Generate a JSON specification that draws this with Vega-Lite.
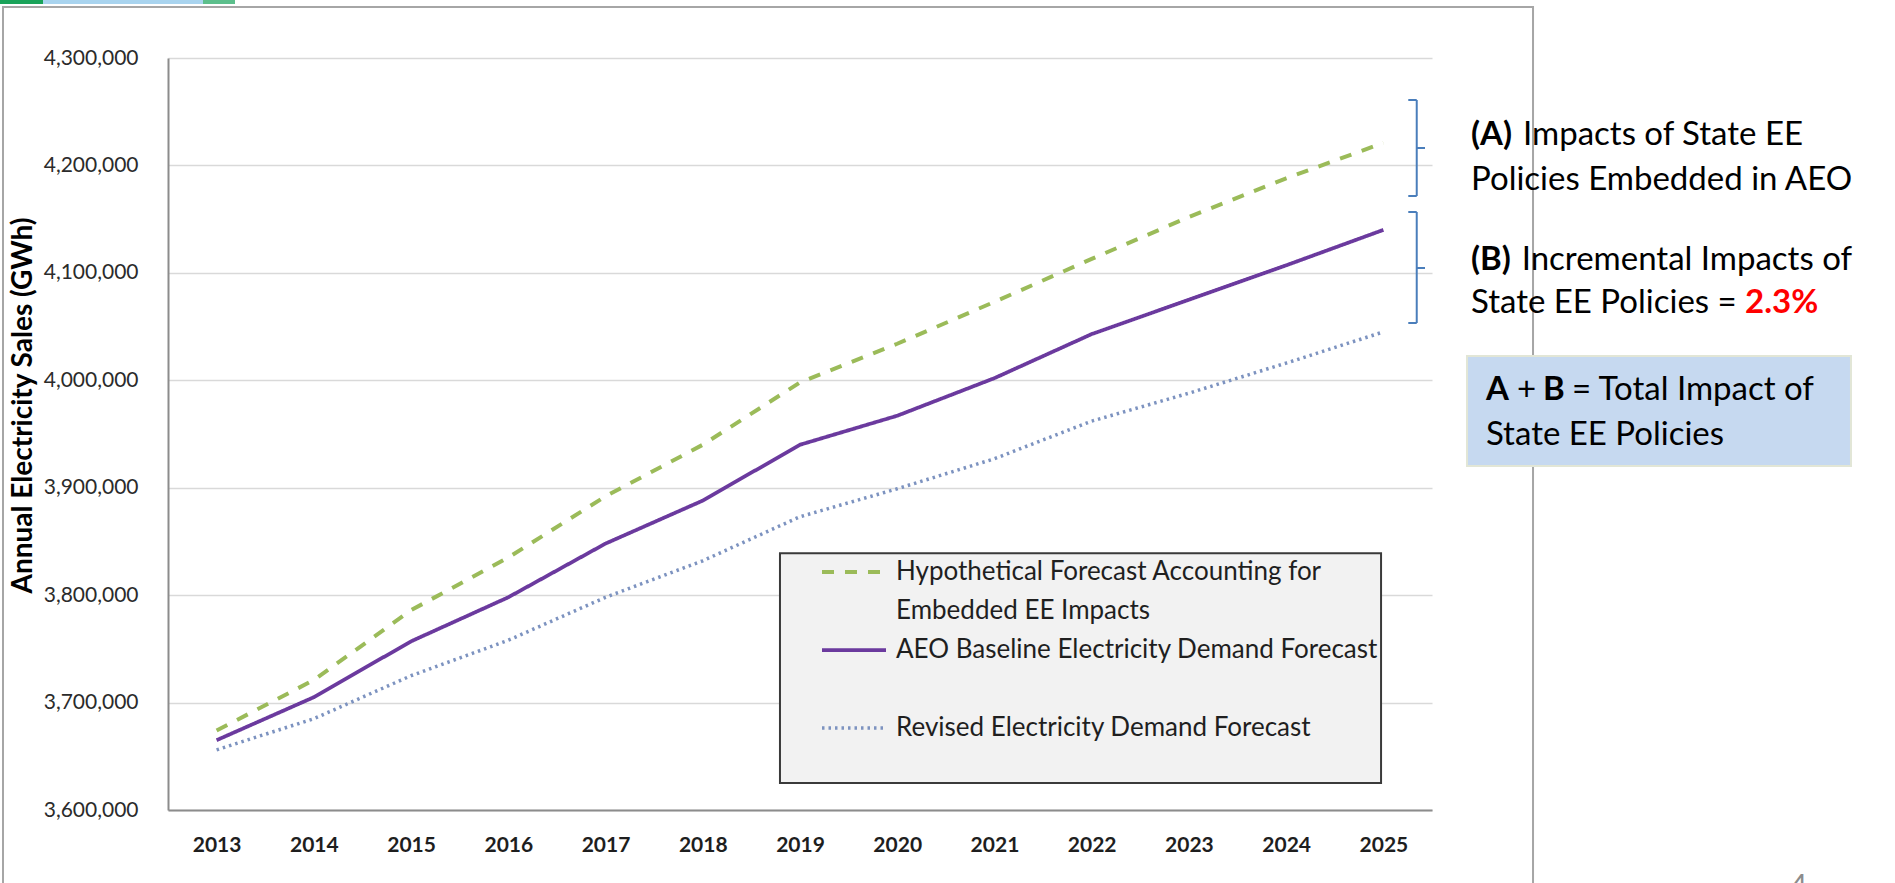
{
  "$schema": "https://vega.github.io/schema/vega-lite/v6.json",
  "width": 1264,
  "height": 752,
  "autosize": {"type": "none"},
  "padding": {"left": 168, "top": 58, "right": 463, "bottom": 73},
  "background": "white",
  "config": {
    "view": {"stroke": null},
    "font": "Lato",
    "text": {"font": "Lato"}
  },
  "datasets": {
    "forecast": [
      {"year": 2013, "series": "Hypothetical Forecast Accounting for Embedded EE Impacts", "value": 3674000},
      {"year": 2014, "series": "Hypothetical Forecast Accounting for Embedded EE Impacts", "value": 3721000},
      {"year": 2015, "series": "Hypothetical Forecast Accounting for Embedded EE Impacts", "value": 3786000},
      {"year": 2016, "series": "Hypothetical Forecast Accounting for Embedded EE Impacts", "value": 3835000},
      {"year": 2017, "series": "Hypothetical Forecast Accounting for Embedded EE Impacts", "value": 3892000},
      {"year": 2018, "series": "Hypothetical Forecast Accounting for Embedded EE Impacts", "value": 3940000},
      {"year": 2019, "series": "Hypothetical Forecast Accounting for Embedded EE Impacts", "value": 3998000},
      {"year": 2020, "series": "Hypothetical Forecast Accounting for Embedded EE Impacts", "value": 4034000},
      {"year": 2021, "series": "Hypothetical Forecast Accounting for Embedded EE Impacts", "value": 4073000},
      {"year": 2022, "series": "Hypothetical Forecast Accounting for Embedded EE Impacts", "value": 4113000},
      {"year": 2023, "series": "Hypothetical Forecast Accounting for Embedded EE Impacts", "value": 4152000},
      {"year": 2024, "series": "Hypothetical Forecast Accounting for Embedded EE Impacts", "value": 4188000},
      {"year": 2025, "series": "Hypothetical Forecast Accounting for Embedded EE Impacts", "value": 4221000},
      {"year": 2013, "series": "AEO Baseline Electricity Demand Forecast", "value": 3665000},
      {"year": 2014, "series": "AEO Baseline Electricity Demand Forecast", "value": 3705000},
      {"year": 2015, "series": "AEO Baseline Electricity Demand Forecast", "value": 3757000},
      {"year": 2016, "series": "AEO Baseline Electricity Demand Forecast", "value": 3798000},
      {"year": 2017, "series": "AEO Baseline Electricity Demand Forecast", "value": 3848000},
      {"year": 2018, "series": "AEO Baseline Electricity Demand Forecast", "value": 3888000},
      {"year": 2019, "series": "AEO Baseline Electricity Demand Forecast", "value": 3940000},
      {"year": 2020, "series": "AEO Baseline Electricity Demand Forecast", "value": 3967000},
      {"year": 2021, "series": "AEO Baseline Electricity Demand Forecast", "value": 4002000},
      {"year": 2022, "series": "AEO Baseline Electricity Demand Forecast", "value": 4043000},
      {"year": 2023, "series": "AEO Baseline Electricity Demand Forecast", "value": 4075000},
      {"year": 2024, "series": "AEO Baseline Electricity Demand Forecast", "value": 4107000},
      {"year": 2025, "series": "AEO Baseline Electricity Demand Forecast", "value": 4140000},
      {"year": 2013, "series": "Revised Electricity Demand Forecast", "value": 3656000},
      {"year": 2014, "series": "Revised Electricity Demand Forecast", "value": 3685000},
      {"year": 2015, "series": "Revised Electricity Demand Forecast", "value": 3725000},
      {"year": 2016, "series": "Revised Electricity Demand Forecast", "value": 3758000},
      {"year": 2017, "series": "Revised Electricity Demand Forecast", "value": 3798000},
      {"year": 2018, "series": "Revised Electricity Demand Forecast", "value": 3832000},
      {"year": 2019, "series": "Revised Electricity Demand Forecast", "value": 3873000},
      {"year": 2020, "series": "Revised Electricity Demand Forecast", "value": 3899000},
      {"year": 2021, "series": "Revised Electricity Demand Forecast", "value": 3927000},
      {"year": 2022, "series": "Revised Electricity Demand Forecast", "value": 3962000},
      {"year": 2023, "series": "Revised Electricity Demand Forecast", "value": 3988000},
      {"year": 2024, "series": "Revised Electricity Demand Forecast", "value": 4016000},
      {"year": 2025, "series": "Revised Electricity Demand Forecast", "value": 4045000}
    ],
    "brackets": [
      {"bracket": "A", "top": 4260904, "mid": 4216224, "bottom": 4171543},
      {"bracket": "B", "top": 4156649, "mid": 4104522, "bottom": 4053325}
    ],
    "single": [{"k": 1}]
  },
  "encoding": {
    "x": {
      "type": "quantitative",
      "scale": {"domain": [2012.5, 2025.5], "nice": false, "zero": false},
      "axis": {
        "values": [2013, 2014, 2015, 2016, 2017, 2018, 2019, 2020, 2021, 2022, 2023, 2024, 2025],
        "format": "d",
        "title": null,
        "grid": false,
        "ticks": false,
        "labelFont": "Lato",
        "labelFontWeight": "bold",
        "labelFontSize": 21,
        "labelColor": "#1e1e1e",
        "labelPadding": 24,
        "domainColor": "#8c8c8c",
        "domainWidth": 2,
        "labelFlush": false
      }
    },
    "y": {
      "type": "quantitative",
      "scale": {"domain": [3600000, 4300000], "nice": false, "zero": false},
      "axis": {
        "values": [3600000, 3700000, 3800000, 3900000, 4000000, 4100000, 4200000, 4300000],
        "format": ",d",
        "title": "Annual Electricity Sales  (GWh)",
        "titleFont": "Lato",
        "titleFontWeight": "bold",
        "titleFontSize": 28,
        "titleColor": "#000000",
        "titleAngle": -90,
        "titleAlign": "center",
        "titleBaseline": "middle",
        "titleX": -145,
        "titleY": 347,
        "grid": true,
        "gridColor": "#d9d9d9",
        "gridWidth": 1.5,
        "ticks": false,
        "labelFont": "Lato",
        "labelFontSize": 21,
        "labelColor": "#2b2b2b",
        "labelPadding": 30,
        "domainColor": "#8c8c8c",
        "domainWidth": 2,
        "labelFlush": false
      }
    }
  },
  "layer": [
    {
      "data": {"name": "single"},
      "mark": {"type": "rect", "filled": false, "stroke": "#a6a6a6", "strokeWidth": 2},
      "encoding": {
        "x": {"datum": 2010.803},
        "x2": {"datum": 2026.539},
        "y": {"datum": 4347473},
        "y2": {"datum": 3500000}
      }
    },
    {
      "data": {"name": "single"},
      "mark": {"type": "rect", "fill": "#1aa35a"},
      "encoding": {
        "x": {"datum": 2010.7721},
        "x2": {"datum": 2011.2144},
        "y": {"datum": 4353989},
        "y2": {"datum": 4350266}
      }
    },
    {
      "data": {"name": "single"},
      "mark": {"type": "rect", "fill": "#a9d4ef"},
      "encoding": {
        "x": {"datum": 2011.2144},
        "x2": {"datum": 2012.86},
        "y": {"datum": 4353989},
        "y2": {"datum": 4350266}
      }
    },
    {
      "data": {"name": "single"},
      "mark": {"type": "rect", "fill": "#5cbf8c"},
      "encoding": {
        "x": {"datum": 2012.86},
        "x2": {"datum": 2013.189},
        "y": {"datum": 4353989},
        "y2": {"datum": 4350266}
      }
    },
    {
      "data": {"name": "single"},
      "mark": {"type": "rect", "fill": "#f2f2f2", "stroke": "#3a3a3a", "strokeWidth": 2},
      "encoding": {
        "x": {"datum": 2018.794},
        "x2": {"datum": 2024.976},
        "y": {"datum": 3839070},
        "y2": {"datum": 3625116}
      }
    },
    {
      "data": {"name": "forecast"},
      "mark": {"type": "line", "strokeCap": "butt"},
      "encoding": {
        "x": {"field": "year", "type": "quantitative"},
        "y": {"field": "value", "type": "quantitative"},
        "color": {
          "field": "series",
          "type": "nominal",
          "scale": {
            "domain": ["Hypothetical Forecast Accounting for Embedded EE Impacts", "AEO Baseline Electricity Demand Forecast", "Revised Electricity Demand Forecast"],
            "range": ["#9bbb59", "#6b3a9e", "#7d93c0"]
          },
          "legend": {
            "orient": "none",
            "legendX": 652,
            "legendY": 494,
            "title": null,
            "padding": 0,
            "rowPadding": 0,
            "clipHeight": 78,
            "labelFont": "Lato",
            "labelFontSize": 26,
            "labelColor": "#1f1f1f",
            "labelLimit": 0,
            "labelOffset": 8,
            "symbolType": "stroke",
            "symbolSize": 4096,
            "symbolStrokeWidth": 3.5,
            "labelExpr": "datum.label == 'Hypothetical Forecast Accounting for Embedded EE Impacts' ? ['Hypothetical Forecast Accounting for', 'Embedded EE Impacts'] : datum.label",
            "encode": {
              "labels": {"update": {"lineHeight": {"value": 39}, "y": {"value": 20}}},
              "symbols": {"update": {"y": {"value": 20}}}
            }
          }
        },
        "strokeDash": {
          "field": "series",
          "type": "nominal",
          "scale": {
            "domain": ["Hypothetical Forecast Accounting for Embedded EE Impacts", "AEO Baseline Electricity Demand Forecast", "Revised Electricity Demand Forecast"],
            "range": [[12, 11], [1, 0], [2.5, 4]]
          }
        },
        "strokeWidth": {
          "field": "series",
          "type": "nominal",
          "scale": {
            "domain": ["Hypothetical Forecast Accounting for Embedded EE Impacts", "AEO Baseline Electricity Demand Forecast", "Revised Electricity Demand Forecast"],
            "range": [4, 3.5, 3.5]
          },
          "legend": null
        }
      }
    },
    {
      "data": {"name": "brackets"},
      "mark": {"type": "rule", "color": "#4a7ebb", "strokeWidth": 2},
      "encoding": {
        "x": {"datum": 2025.343},
        "y": {"field": "top", "type": "quantitative"},
        "y2": {"field": "bottom"}
      }
    },
    {
      "data": {"name": "brackets"},
      "mark": {"type": "rule", "color": "#4a7ebb", "strokeWidth": 2},
      "encoding": {
        "x": {"datum": 2025.256},
        "x2": {"datum": 2025.343},
        "y": {"field": "top", "type": "quantitative"}
      }
    },
    {
      "data": {"name": "brackets"},
      "mark": {"type": "rule", "color": "#4a7ebb", "strokeWidth": 2},
      "encoding": {
        "x": {"datum": 2025.256},
        "x2": {"datum": 2025.343},
        "y": {"field": "bottom", "type": "quantitative"}
      }
    },
    {
      "data": {"name": "brackets"},
      "mark": {"type": "rule", "color": "#4a7ebb", "strokeWidth": 2},
      "encoding": {
        "x": {"datum": 2025.343},
        "x2": {"datum": 2025.428},
        "y": {"field": "mid", "type": "quantitative"}
      }
    },
    {
      "data": {"name": "single"},
      "mark": {"type": "text", "align": "left", "baseline": "alphabetic", "font": "Lato", "fontSize": 33, "fontWeight": "bold", "color": "#000000"},
      "encoding": {"x": {"datum": 2025.901}, "y": {"datum": 4219016}, "text": {"value": "(A)"}}
    },
    {
      "data": {"name": "single"},
      "mark": {"type": "text", "align": "left", "baseline": "alphabetic", "font": "Lato", "fontSize": 33, "color": "#000000"},
      "encoding": {"x": {"datum": 2026.436}, "y": {"datum": 4219016}, "text": {"value": "Impacts of State EE"}}
    },
    {
      "data": {"name": "single"},
      "mark": {"type": "text", "align": "left", "baseline": "alphabetic", "font": "Lato", "fontSize": 33, "color": "#000000"},
      "encoding": {"x": {"datum": 2025.901}, "y": {"datum": 4177128}, "text": {"value": "Policies Embedded in AEO"}}
    },
    {
      "data": {"name": "single"},
      "mark": {"type": "text", "align": "left", "baseline": "alphabetic", "font": "Lato", "fontSize": 33, "fontWeight": "bold", "color": "#000000"},
      "encoding": {"x": {"datum": 2025.901}, "y": {"datum": 4102660}, "text": {"value": "(B)"}}
    },
    {
      "data": {"name": "single"},
      "mark": {"type": "text", "align": "left", "baseline": "alphabetic", "font": "Lato", "fontSize": 33, "color": "#000000"},
      "encoding": {"x": {"datum": 2026.422}, "y": {"datum": 4102660}, "text": {"value": "Incremental Impacts of"}}
    },
    {
      "data": {"name": "single"},
      "mark": {"type": "text", "align": "left", "baseline": "alphabetic", "font": "Lato", "fontSize": 33, "color": "#000000"},
      "encoding": {"x": {"datum": 2025.901}, "y": {"datum": 4062633}, "text": {"value": "State EE Policies ="}}
    },
    {
      "data": {"name": "single"},
      "mark": {"type": "text", "align": "left", "baseline": "alphabetic", "font": "Lato", "fontSize": 33, "fontWeight": "bold", "color": "#ff0000"},
      "encoding": {"x": {"datum": 2028.72}, "y": {"datum": 4062633}, "text": {"value": "2.3%"}}
    },
    {
      "data": {"name": "single"},
      "mark": {"type": "rect", "fill": "#c6d9f0", "stroke": "#e2e6d6", "strokeWidth": 2},
      "encoding": {
        "x": {"datum": 2025.86},
        "x2": {"datum": 2029.809},
        "y": {"datum": 4022607},
        "y2": {"datum": 3920213}
      }
    },
    {
      "data": {"name": "single"},
      "mark": {"type": "text", "align": "left", "baseline": "alphabetic", "font": "Lato", "fontSize": 33, "fontWeight": "bold", "color": "#000000"},
      "encoding": {"x": {"datum": 2026.055}, "y": {"datum": 3981649}, "text": {"value": "A"}}
    },
    {
      "data": {"name": "single"},
      "mark": {"type": "text", "align": "left", "baseline": "alphabetic", "font": "Lato", "fontSize": 33, "color": "#000000"},
      "encoding": {"x": {"datum": 2026.374}, "y": {"datum": 3981649}, "text": {"value": "+"}}
    },
    {
      "data": {"name": "single"},
      "mark": {"type": "text", "align": "left", "baseline": "alphabetic", "font": "Lato", "fontSize": 33, "fontWeight": "bold", "color": "#000000"},
      "encoding": {"x": {"datum": 2026.642}, "y": {"datum": 3981649}, "text": {"value": "B"}}
    },
    {
      "data": {"name": "single"},
      "mark": {"type": "text", "align": "left", "baseline": "alphabetic", "font": "Lato", "fontSize": 33, "color": "#000000"},
      "encoding": {"x": {"datum": 2026.94}, "y": {"datum": 3981649}, "text": {"value": "= Total Impact of"}}
    },
    {
      "data": {"name": "single"},
      "mark": {"type": "text", "align": "left", "baseline": "alphabetic", "font": "Lato", "fontSize": 33, "color": "#000000"},
      "encoding": {"x": {"datum": 2026.055}, "y": {"datum": 3939761}, "text": {"value": "State EE Policies"}}
    },
    {
      "data": {"name": "single"},
      "mark": {"type": "text", "align": "left", "baseline": "top", "font": "Lato", "fontSize": 30, "color": "#8c8c8c"},
      "encoding": {"x": {"datum": 2029.182}, "y": {"datum": 3542288}, "text": {"value": "4"}}
    }
  ]
}
